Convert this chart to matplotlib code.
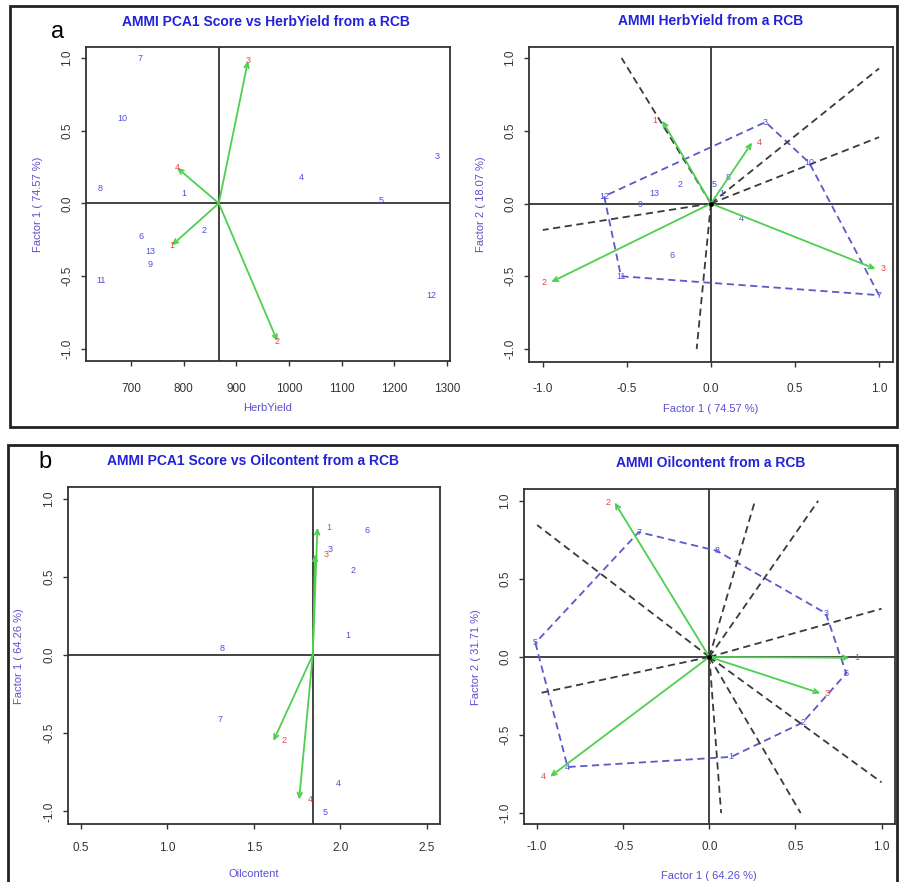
import matplotlib
matplotlib.use('Agg')
import matplotlib.pyplot as plt
from matplotlib.patches import Rectangle
import numpy as np

plt.rcParams['axes.unicode_minus'] = False
plt.rcParams['font.family'] = ['Liberation Sans', 'DejaVu Sans']

# ---------------- data ----------------
# Panel a : HerbYield
herb_geno_labels = ['1', '2', '3', '4', '5', '6', '7', '8', '9', '10', '11', '12', '13']
herb_geno_mean = [800, 838, 1281, 1024, 1175, 719, 717, 641, 736, 684, 643, 1270, 736]
herb_geno_pc1 = [0.065, -0.185, 0.325, 0.18, 0.02, -0.23, 1.0, 0.105, -0.42, 0.585, -0.535, -0.635, -0.335]
herb_geno_pc2 = [0.07, 0.13, 0.56, -0.10, 0.13, -0.36, -0.63, 0.18, -0.01, 0.28, -0.50, 0.05, 0.07]
herb_env_labels = ['1', '2', '3', '4']
herb_env_mean = [777, 978, 922, 787]
herb_env_pc1 = [-0.29, -0.95, 0.98, 0.245]
herb_env_pc2 = [0.57, -0.54, -0.45, 0.42]
herb_pct = [74.57, 18.07]

# Panel b : Oilcontent
oil_geno_labels = ['1', '2', '3', '4', '5', '6', '7', '8']
oil_geno_mean = [2.041, 2.072, 1.941, 1.989, 1.912, 2.153, 1.304, 1.314]
oil_geno_pc1 = [0.127, 0.542, 0.676, -0.823, -1.01, 0.795, -0.41, 0.043]
oil_geno_pc2 = [-0.64, -0.42, 0.28, -0.705, 0.09, -0.105, 0.80, 0.68]
oil_env_labels = ['1', '2', '3', '4']
oil_env_mean = [1.868, 1.613, 1.855, 1.762]
oil_env_pc1 = [0.815, -0.55, 0.645, -0.925]
oil_env_pc2 = [-0.005, 0.99, -0.233, -0.767]
oil_pct = [64.26, 31.71]

herb_xticks = [700, 800, 900, 1000, 1100, 1200, 1300]
oil_xticks = [0.5, 1.0, 1.5, 2.0, 2.5]
pc_ticks = [-1.0, -0.5, 0.0, 0.5, 1.0]

# ---------------- style ----------------
W, H = 901, 882
fig = plt.figure(figsize=(W / 100, H / 100), dpi=100)

TITLE_C = '#2222d8'
LAB_C = '#5a50d0'
GENO_C = '#4f4fe0'
ENV_C = '#e04848'
ARROW_C = '#4fcf4f'
POLY_C = '#5a5ac8'
RAY_C = '#3a3a3a'
FRAME_C = '#333333'


def px_axes(l, t, r, b):
    return fig.add_axes([l / W, 1 - b / H, (r - l) / W, (b - t) / H])


def style(ax, xlim, ylim, xticks, yticks, xfmt, xpad=9):
    ax.set_xlim(xlim)
    ax.set_ylim(ylim)
    for s in ax.spines.values():
        s.set_color(FRAME_C)
        s.set_linewidth(1.3)
    ax.set_xticks(xticks)
    ax.set_xticklabels([xfmt % v for v in xticks])
    ax.set_yticks(yticks)
    ax.set_yticklabels(['%.1f' % v for v in yticks], rotation=90, va='center')
    ax.tick_params(axis='x', direction='out', length=3.6, width=1.0, color=FRAME_C,
                   labelsize=8.5, labelcolor='#333333', pad=xpad)
    ax.tick_params(axis='y', direction='out', length=3.6, width=1.0, color=FRAME_C,
                   labelsize=8.5, labelcolor='#333333', pad=5.5)


def labels(ax, xl, yl, xoff=-47, yoff=-48):
    ax.annotate(xl, xy=(0.5, 0), xycoords='axes fraction', xytext=(0, xoff),
                textcoords='offset pixels', ha='center', va='center', fontsize=8, color=LAB_C)
    ax.annotate(yl, xy=(0, 0.5), xycoords='axes fraction', xytext=(yoff, 0),
                textcoords='offset pixels', ha='center', va='center', fontsize=8, color=LAB_C,
                rotation=90)


def arrow(ax, x0, y0, x1, y1):
    ax.annotate('', xy=(x1, y1), xytext=(x0, y0),
                arrowprops=dict(arrowstyle='->,head_length=0.35,head_width=0.16',
                                color=ARROW_C, lw=1.3, shrinkA=0, shrinkB=0), zorder=4)


def hull(pts):
    pts = sorted(set(pts))

    def cross(o, a, b):
        return (a[0] - o[0]) * (b[1] - o[1]) - (a[1] - o[1]) * (b[0] - o[0])
    lower, upper = [], []
    for p in pts:
        while len(lower) >= 2 and cross(lower[-2], lower[-1], p) <= 0:
            lower.pop()
        lower.append(p)
    for p in reversed(pts):
        while len(upper) >= 2 and cross(upper[-2], upper[-1], p) <= 0:
            upper.pop()
        upper.append(p)
    return lower[:-1] + upper[:-1]


def mean_plot(ax, gx, gy, glab, ex, ey, elab, env_dx):
    m = np.mean(gx)
    ax.axhline(0, color='#222222', lw=1.2, zorder=1)
    ax.axvline(m, color='#222222', lw=1.2, zorder=1)
    for x, y, t in zip(gx, gy, glab):
        ax.text(x, y, t, color=GENO_C, fontsize=6.5, ha='center', va='center', zorder=3)
    for x, y, t in zip(ex, ey, elab):
        arrow(ax, m, 0, x, y)
        ax.annotate(t, xy=(x, y), xytext=(env_dx, 0), textcoords='offset pixels',
                    color=ENV_C, fontsize=6.5, ha='center', va='center', zorder=5)


def biplot(ax, gx, gy, glab, ex, ey, elab):
    ax.axhline(0, color='#222222', lw=1.2, zorder=1)
    ax.axvline(0, color='#222222', lw=1.2, zorder=1)
    h = hull(list(zip(gx, gy)))
    hp = np.array(h + [h[0]])
    ax.plot(hp[:, 0], hp[:, 1], color=POLY_C, lw=1.3, dashes=(4, 2.5), zorder=2)
    for i in range(len(h)):
        p = np.array(h[i])
        q = np.array(h[(i + 1) % len(h)])
        d = q - p
        t = -np.dot(p, d) / np.dot(d, d)
        f = p + t * d
        f = f / np.max(np.abs(f))
        ax.plot([0, f[0]], [0, f[1]], color=RAY_C, lw=1.3, dashes=(4, 2.5), zorder=2)
    for x, y, t in zip(gx, gy, glab):
        ax.text(x, y, t, color=GENO_C, fontsize=6.5, ha='center', va='center', zorder=3)
    for x, y, t in zip(ex, ey, elab):
        arrow(ax, 0, 0, x, y)
        ax.annotate(t, xy=(x, y), xytext=(7 if x > 0 else -7, 0), textcoords='offset pixels',
                    color=ENV_C, fontsize=6.5, ha='center', va='center', zorder=5)
    ax.plot([0], [0], 'o', color='k', ms=2.5, zorder=6)


# ---------------- panel a ----------------
ax1 = px_axes(86, 47, 450, 361)
style(ax1, (614, 1306), (-1.086, 1.076), herb_xticks, pc_ticks, '%d', xpad=12)
mean_plot(ax1, herb_geno_mean, herb_geno_pc1, herb_geno_labels,
          herb_env_mean, herb_env_pc1, herb_env_labels, 0)
labels(ax1, 'HerbYield', 'Factor 1 ( %.2f %%)' % herb_pct[0])

ax2 = px_axes(529, 47, 893, 361.5)
style(ax2, (-1.082, 1.083), (-1.086, 1.076), pc_ticks, pc_ticks, '%.1f', xpad=12)
biplot(ax2, herb_geno_pc1, herb_geno_pc2, herb_geno_labels,
       herb_env_pc1, herb_env_pc2, herb_env_labels)
labels(ax2, 'Factor 1 ( %.2f %%)' % herb_pct[0], 'Factor 2 ( %.2f %%)' % herb_pct[1])

# ---------------- panel b ----------------
ax3 = px_axes(67.7, 487.3, 440, 824.3)
style(ax3, (0.423, 2.577), (-1.083, 1.073), oil_xticks, pc_ticks, '%.1f')
mean_plot(ax3, oil_geno_mean, oil_geno_pc1, oil_geno_labels,
          oil_env_mean, oil_env_pc1, oil_env_labels, 11)
labels(ax3, 'Oilcontent', 'Factor 1 ( %.2f %%)' % oil_pct[0], xoff=-50, yoff=-49)

ax4 = px_axes(523.7, 489.3, 895, 824)
style(ax4, (-1.078, 1.078), (-1.07, 1.074), pc_ticks, pc_ticks, '%.1f')
biplot(ax4, oil_geno_pc1, oil_geno_pc2, oil_geno_labels,
       oil_env_pc1, oil_env_pc2, oil_env_labels)
labels(ax4, 'Factor 1 ( %.2f %%)' % oil_pct[0], 'Factor 2 ( %.2f %%)' % oil_pct[1], xoff=-52)

# ---------------- titles, panel letters, boxes ----------------
def ftext(x, y, s, **kw):
    fig.text(x / W, 1 - y / H, s, ha='center', va='center', **kw)

ftext(266, 22, 'AMMI PCA1 Score vs HerbYield from a RCB', color=TITLE_C, fontsize=10, fontweight='bold')
ftext(711, 21, 'AMMI HerbYield from a RCB', color=TITLE_C, fontsize=10, fontweight='bold')
ftext(253, 461, 'AMMI PCA1 Score vs Oilcontent from a RCB', color=TITLE_C, fontsize=10, fontweight='bold')
ftext(711, 463, 'AMMI Oilcontent from a RCB', color=TITLE_C, fontsize=10, fontweight='bold')
ftext(58, 32, 'a', color='black', fontsize=17)
ftext(45, 462, 'b', color='black', fontsize=17)

fig.add_artist(Rectangle((10 / W, 1 - 427 / H), (897 - 10) / W, (427 - 6) / H,
                         transform=fig.transFigure, fill=False, lw=2, ec='#222222'))
fig.add_artist(Rectangle((8 / W, 1 - 895 / H), (897 - 8) / W, (895 - 445) / H,
                         transform=fig.transFigure, fill=False, lw=2, ec='#222222'))

fig.savefig('out.png', dpi=100)
